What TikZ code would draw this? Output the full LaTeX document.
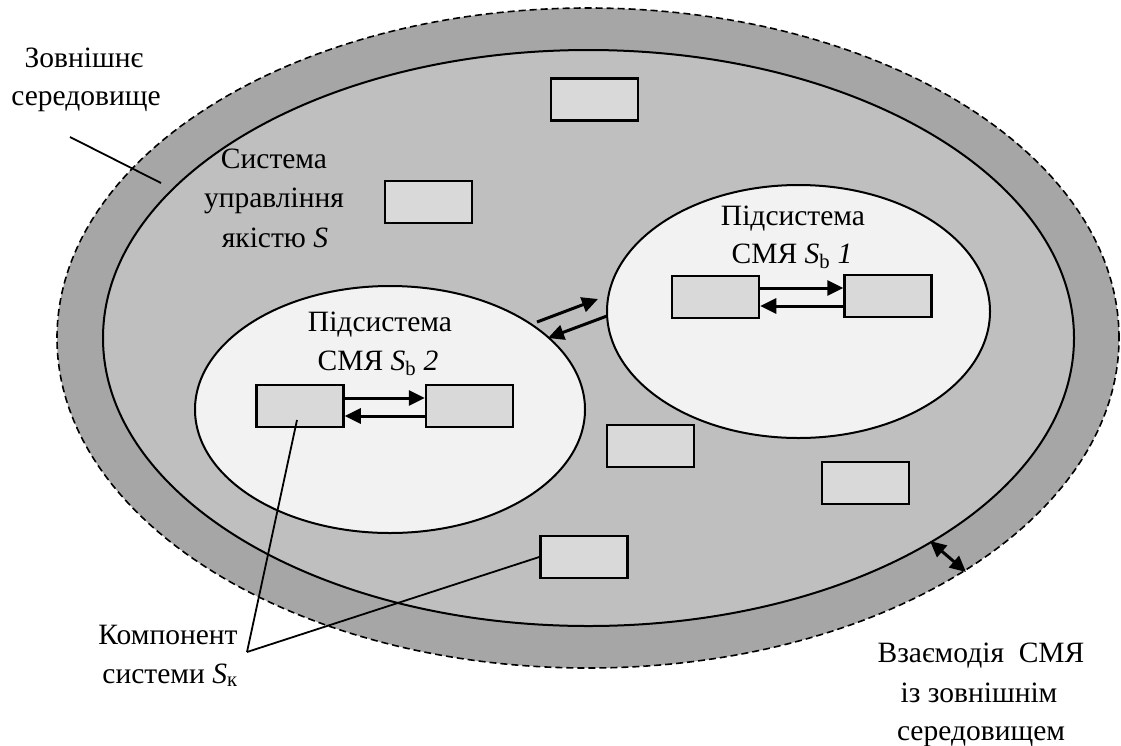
\documentclass[tikz,border=0pt]{standalone}
\usepackage{fontspec}
\setmainfont{Liberation Serif}
\usetikzlibrary{shapes.geometric,arrows.meta}
\definecolor{ringgray}{HTML}{A6A6A6}
\definecolor{sysgray}{HTML}{BFBFBF}
\definecolor{subgray}{HTML}{F2F2F2}
\definecolor{boxgray}{HTML}{D9D9D9}
\tikzset{
  lbl/.style={anchor=base, inner sep=0pt, font=\fontsize{29.5}{38}\selectfont},
  comp/.style={draw, line width=2.5pt, fill=boxgray, minimum width=87pt, minimum height=42pt, inner sep=0pt},
  ell/.style={ellipse, inner sep=0pt},
  flow/.style={line width=3pt, -{Triangle[length=16pt,width=15pt]}},
  biflow/.style={line width=3pt, {Triangle[length=16pt,width=15pt]}-{Triangle[length=16pt,width=15pt]}},
  leader/.style={line width=1.8pt}
}
\begin{document}
\begin{tikzpicture}[x=1pt,y=-1pt]
\useasboundingbox (0,0) rectangle (1121,745);
% environment and system
\node[ell, draw, dashed, dash pattern=on 7pt off 4pt, line width=1.6pt, fill=ringgray, minimum width=1062pt, minimum height=660pt] (outer) at (588,338) {};
\node[ell, draw, line width=2pt, fill=sysgray, minimum width=971pt, minimum height=576pt] (inner) at (588.5,338) {};
% subsystems
\node[ell, draw, line width=2pt, fill=subgray, minimum width=383pt, minimum height=253pt] (sub1) at (798.5,311.5) {};
\node[ell, draw, line width=2pt, fill=subgray, minimum width=390pt, minimum height=247pt] (sub2) at (390,409.5) {};
% free components
\node[comp] (ca) at (594.5,99.5) {};
\node[comp] (cb) at (428.5,202) {};
\node[comp] (cc) at (650.5,446) {};
\node[comp] (cd) at (865.5,483) {};
\node[comp] (ce) at (584,557) {};
% subsystem components
\node[comp] (s1a) at (715.5,297) {};
\node[comp] (s1b) at (888,296) {};
\node[comp] (s2a) at (300,406) {};
\node[comp] (s2b) at (469.5,406) {};
% arrows inside subsystems (canvas yshift: positive is up)
\draw[flow] ([yshift=9pt]s1a.east) -- ([yshift=9pt]s1a.east -| s1b.west);
\draw[flow] ([yshift=-10pt]s1b.west) -- ([yshift=-10pt]s1b.west -| s1a.east);
\draw[flow] ([yshift=8pt]s2a.east) -- ([yshift=8pt]s2a.east -| s2b.west);
\draw[flow] ([yshift=-10pt]s2b.west) -- ([yshift=-10pt]s2b.west -| s2a.east);
% arrows between subsystems
\coordinate (i1) at (537,322);
\coordinate (i2) at (598,299);
\coordinate (j1) at (607,316);
\coordinate (j2) at (548,338);
\draw[flow] (i1) -- (i2);
\draw[flow] (j1) -- (j2);
% interaction with environment
\coordinate (e1) at (930,541);
\coordinate (e2) at (966,572);
\draw[biflow] (e1) -- (e2);
% labels
\node[lbl] (env1) at (84,67) {Зовнішнє};
\node[lbl] (env2) at (86,105) {середовище};
\coordinate (envA) at (70,137);
\coordinate (envB) at (161,183);
\draw[leader] (envA) -- (envB);
\node[lbl] (sys1) at (274,168) {Система};
\node[lbl] (sys2) at (274,207) {управління};
\node[lbl] (sys3) at (275,247) {якістю \textit{S}};
\node[lbl] (sb1a) at (793,225) {Підсистема};
\node[lbl] (sb1b) at (792,263) {СМЯ \textit{S}\textsubscript{b} \textit{1}};
\node[lbl] (sb2a) at (380,331) {Підсистема};
\node[lbl] (sb2b) at (378,370) {СМЯ \textit{S}\textsubscript{b} \textit{2}};
\node[lbl] (cmp1) at (168,644) {Компонент};
\node[lbl] (cmp2) at (170,683) {системи \textit{S}\textsubscript{к}};
\coordinate (cmpP) at (247,652);
\coordinate (s2aP) at (297,420);
\draw[leader] (cmpP) -- (s2aP);
\draw[leader] (cmpP) -- (ce.west);
\node[lbl] (int1) at (981,662) {Взаємодія\ \ СМЯ};
\node[lbl] (int2) at (979,702) {із зовнішнім};
\node[lbl] (int3) at (981,740) {середовищем};
\end{tikzpicture}
\end{document}
